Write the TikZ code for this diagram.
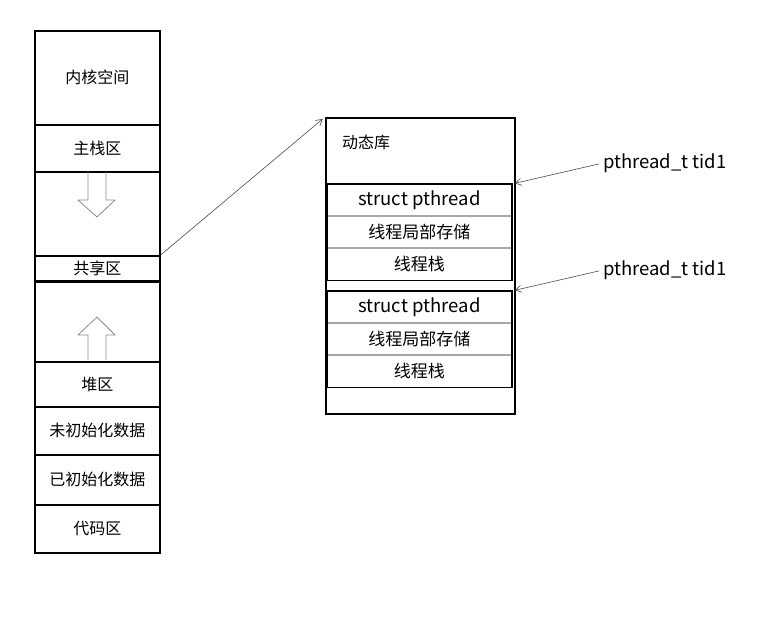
\documentclass[tikz,border=0pt]{standalone}
\usepackage{fontspec}
\newfontfamily\cjk{Noto Sans CJK SC}
\usetikzlibrary{arrows.meta}
\definecolor{hollowgray}{HTML}{8A8A8A}
\definecolor{rowgray}{HTML}{A8A8A8}
\definecolor{linkgray}{HTML}{4A4A4A}
\tikzset{
  seg/.style={draw, line width=1.6pt, anchor=north west, minimum width=125pt, inner sep=0pt, font=\cjk\fontsize{16}{18}\selectfont},
  row/.style={draw=rowgray, line width=0.8pt, anchor=north west, minimum width=184pt, inner sep=0pt, font=\cjk\fontsize{17}{19}\selectfont},
  latin/.style={font=\cjk\fontsize{18.5}{20}\selectfont},
  link/.style={draw=linkgray, line width=0.6pt, -{Straight Barb[length=6pt,width=7pt]}},
  hollow/.style={draw=hollowgray, line width=0.8pt, line join=round},
}
\begin{document}
\begin{tikzpicture}[x=1pt,y=-1pt]
\useasboundingbox (0,0) rectangle (771,636);

\node[seg, minimum height=94pt] (kernel) at (34,30) {内核空间};
\node[seg, minimum height=47pt] (mainstack) at (34,124) {主栈区};
\node[seg, minimum height=84pt] (stackgap) at (34,171) {};
\node[seg, minimum height=25pt] (shared) at (34,255) {共享区};
\node[seg, minimum height=80pt] (heapgap) at (34,281) {};
\node[seg, minimum height=45pt] (heap) at (34,361) {堆区};
\node[seg, minimum height=48pt] (bss) at (34,406) {未初始化数据};
\node[seg, minimum height=50pt] (data) at (34,454) {已初始化数据};
\node[seg, minimum height=48pt] (code) at (34,504) {代码区};

\draw[hollow] (88,172)--(88,200)--(78,200)--(97,217)--(115,200)--(106,200)--(106,172);
\draw[hollow] (88,360)--(88,335)--(78,335)--(97,317)--(115,335)--(106,335)--(106,360);

\node[seg, minimum width=189pt, minimum height=296pt] (dynlib) at (325,117) {};
\node[anchor=west, inner sep=0pt, font=\cjk\fontsize{16}{18}\selectfont] (libname) at (342,142) {动态库};

\foreach \i/\y/\ty in {1/184/163, 2/291/270} {
  \node[row, minimum height=31pt, latin] (tcb\i) at (327,\y) {struct pthread};
  \node[row, minimum height=31pt, anchor=north west] (tls\i) at (tcb\i.south west) {线程局部存储};
  \node[row, minimum height=32pt, anchor=north west] (tstack\i) at (tls\i.south west) {线程栈};
  \draw[line width=1.6pt] (tcb\i.north west) rectangle (tstack\i.south east);
  \node[anchor=west, inner sep=0pt, latin] (tid\i) at (603,\ty) {pthread\_t tid1};
  \draw[link, shorten <=4pt, shorten >=3pt] (tid\i.west) -- (tcb\i.north east);
}

\draw[link, shorten >=3pt] (shared.north east) -- (dynlib.north west);
\end{tikzpicture}
\end{document}
